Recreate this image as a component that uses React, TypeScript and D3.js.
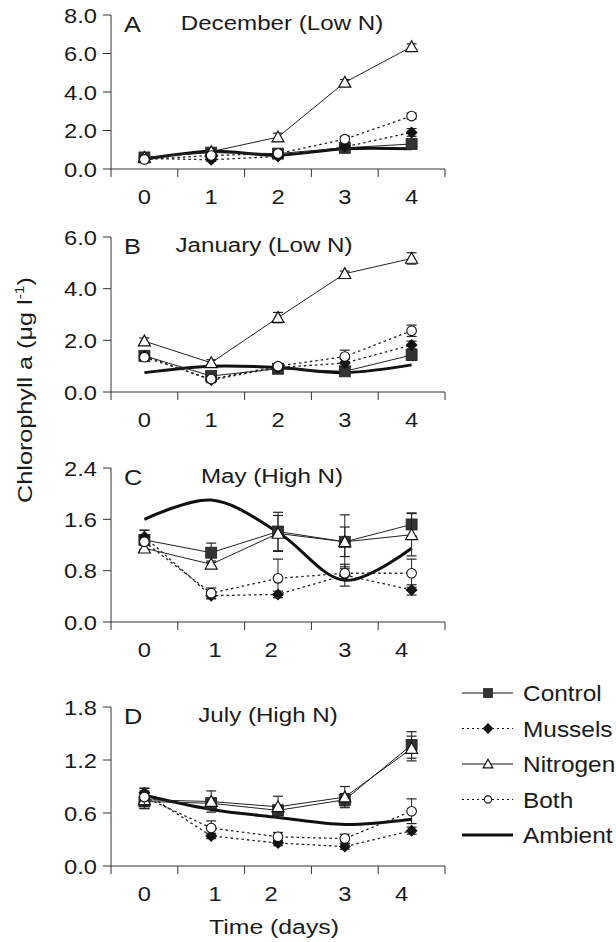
import React from "react";
import * as d3 from "d3";

// days sampled
const days = [0, 1, 2, 3, 4];
const seriesNames = ["Control", "Mussels", "Nitrogen", "Both", "Ambient"];

// A - December (Low N)
const decControl = [0.6, 0.85, 0.8, 1.1, 1.3];
const decControlErr = [0.1, 0.1, 0.1, 0.1, 0.12];
const decMussels = [0.55, 0.48, 0.65, 1.15, 1.9];
const decMusselsErr = [0.1, 0.08, 0.1, 0.12, 0.2];
const decNitrogen = [0.6, 0.9, 1.66, 4.5, 6.35];
const decNitrogenErr = [0.1, 0.1, 0.2, 0.15, 0.15];
const decBoth = [0.5, 0.7, 0.8, 1.55, 2.75];
const decBothErr = [0.1, 0.1, 0.1, 0.15, 0.15];
const decAmbient = [0.5, 0.92, 0.72, 1.05, 1.05];

// B - January (Low N)
const janControl = [1.4, 0.62, 0.9, 0.8, 1.43];
const janControlErr = [0.1, 0.15, 0.1, 0.1, 0.2];
const janMussels = [1.4, 0.46, 0.95, 1.12, 1.82];
const janMusselsErr = [0.1, 0.1, 0.1, 0.15, 0.15];
const janNitrogen = [1.97, 1.13, 2.88, 4.58, 5.17];
const janNitrogenErr = [0.12, 0.12, 0.2, 0.1, 0.22];
const janBoth = [1.35, 0.5, 1.0, 1.37, 2.37];
const janBothErr = [0.1, 0.1, 0.1, 0.25, 0.22];
const janAmbient = [0.75, 1.0, 0.95, 0.75, 1.05];

// C - May (High N)
const mayControl = [1.28, 1.08, 1.41, 1.25, 1.52];
const mayControlErr = [0.15, 0.15, 0.3, 0.42, 0.18];
const mayMussels = [1.33, 0.41, 0.43, 0.73, 0.5];
const mayMusselsErr = [0.1, 0.05, 0.05, 0.17, 0.08];
const mayNitrogen = [1.15, 0.9, 1.38, 1.25, 1.36];
const mayNitrogenErr = [0.05, 0.05, 0.28, 0.23, 0.33];
const mayBoth = [1.25, 0.45, 0.68, 0.76, 0.76];
const mayBothErr = [0.05, 0.08, 0.3, 0.1, 0.22];
const mayAmbient = [1.6, 1.9, 1.4, 0.65, 1.15];

// D - July (High N)
const julControl = [0.73, 0.71, 0.63, 0.75, 1.37];
const julControlErr = [0.08, 0.06, 0.06, 0.07, 0.15];
const julMussels = [0.83, 0.34, 0.26, 0.22, 0.4];
const julMusselsErr = [0.05, 0.03, 0.03, 0.03, 0.04];
const julNitrogen = [0.75, 0.73, 0.67, 0.78, 1.33];
const julNitrogenErr = [0.1, 0.12, 0.12, 0.12, 0.14];
const julBoth = [0.78, 0.43, 0.33, 0.31, 0.62];
const julBothErr = [0.1, 0.08, 0.05, 0.05, 0.14];
const julAmbient = [0.8, 0.64, 0.55, 0.47, 0.53];

const yTicksA = [0, 2, 4, 6, 8];
const yTicksB = [0, 2, 4, 6];
const yTicksC = [0, 0.8, 1.6, 2.4];
const yTicksD = [0, 0.6, 1.2, 1.8];

// label nudges (px) seen in the lower two panels
const shiftNone = [0, 0, 0, 0, 0];
const shiftLower = [0, 4, -7, 0, -10];

const panels = [
  {
    letter: "A", title: "December (Low N)", top: 15, bottom: 169, yTicks: yTicksA, titleX: 282, shift: shiftNone,
    control: [decControl, decControlErr], mussels: [decMussels, decMusselsErr],
    nitrogen: [decNitrogen, decNitrogenErr], both: [decBoth, decBothErr], ambient: decAmbient,
  },
  {
    letter: "B", title: "January (Low N)", top: 237, bottom: 392, yTicks: yTicksB, titleX: 264, shift: shiftNone,
    control: [janControl, janControlErr], mussels: [janMussels, janMusselsErr],
    nitrogen: [janNitrogen, janNitrogenErr], both: [janBoth, janBothErr], ambient: janAmbient,
  },
  {
    letter: "C", title: "May (High N)", top: 468, bottom: 622, yTicks: yTicksC, titleX: 272, shift: shiftLower,
    control: [mayControl, mayControlErr], mussels: [mayMussels, mayMusselsErr],
    nitrogen: [mayNitrogen, mayNitrogenErr], both: [mayBoth, mayBothErr], ambient: mayAmbient,
  },
  {
    letter: "D", title: "July (High N)", top: 707, bottom: 866, yTicks: yTicksD, titleX: 268, shift: shiftLower,
    control: [julControl, julControlErr], mussels: [julMussels, julMusselsErr],
    nitrogen: [julNitrogen, julNitrogenErr], both: [julBoth, julBothErr], ambient: julAmbient,
  },
];

const FONT = "'Liberation Sans', Arial, Helvetica, sans-serif";
const INK = "#1a1a1a";

// text that is a bit wider than the font, like the original figure
function T({ x, y, sx = 1.15, size = 21, anchor = "start", children }: any) {
  return (
    <text transform={`translate(${x},${y}) scale(${sx},1)`} textAnchor={anchor} fontSize={size} fill={INK}>
      {children}
    </text>
  );
}

function Marker({ kind, x, y, s = 1 }: { kind: string; x: number; y: number; s?: number }) {
  if (kind === "Control") {
    const h = 5.5 * s;
    return <rect x={x - h} y={y - h} width={2 * h} height={2 * h} fill="#333" stroke="#222" strokeWidth={0.8} />;
  }
  if (kind === "Mussels") {
    const h = 6 * s;
    return <path d={`M${x},${y - h}L${x + h},${y}L${x},${y + h}L${x - h},${y}Z`} fill="#111" />;
  }
  if (kind === "Nitrogen") {
    const h = 6 * s;
    return (
      <path
        d={`M${x},${y - h}L${x + h},${y + h * 0.8}L${x - h},${y + h * 0.8}Z`}
        fill="#fff"
        stroke="#111"
        strokeWidth={1.2}
      />
    );
  }
  if (kind === "Both") {
    return <circle cx={x} cy={y} r={4.8 * s} fill="#fff" stroke="#111" strokeWidth={1.1} />;
  }
  return null;
}

function Panel({ p }: { p: (typeof panels)[number] }) {
  const x = d3.scaleBand<number>().domain(days).range([111, 445]).paddingInner(0).paddingOuter(0);
  const cx = (d: number) => (x(d) as number) + x.bandwidth() / 2;
  const yMax = p.yTicks[p.yTicks.length - 1];
  const y = d3.scaleLinear().domain([0, yMax]).range([p.bottom, p.top]);
  const edges = [...days.map((d) => x(d) as number), 445];

  const straight = d3
    .line<number>()
    .x((_, i) => cx(days[i]))
    .y((v) => y(v));
  const smooth = d3
    .line<number>()
    .x((_, i) => cx(days[i]))
    .y((v) => y(v))
    .curve(d3.curveCatmullRom.alpha(0.5));

  const series = [
    { name: "Control", vals: p.control[0], err: p.control[1], dash: undefined },
    { name: "Mussels", vals: p.mussels[0], err: p.mussels[1], dash: "2.5,3" },
    { name: "Nitrogen", vals: p.nitrogen[0], err: p.nitrogen[1], dash: undefined },
    { name: "Both", vals: p.both[0], err: p.both[1], dash: "2.5,3" },
  ];

  return (
    <g>
      {/* axes */}
      <line x1={111} x2={111} y1={p.top} y2={p.bottom} stroke="#333" strokeWidth={1} />
      <line x1={111} x2={445} y1={p.bottom} y2={p.bottom} stroke="#333" strokeWidth={1} />
      {p.yTicks.map((t) => (
        <g key={t}>
          <line x1={103} x2={111} y1={y(t)} y2={y(t)} stroke="#333" />
          <T x={97} y={y(t) + 7.5} anchor="end" sx={1.13}>
            {d3.format(".1f")(t)}
          </T>
        </g>
      ))}
      {edges.map((e, i) => (
        <line key={i} x1={e} x2={e} y1={p.bottom} y2={p.bottom + 8} stroke="#333" />
      ))}
      {days.map((d, i) => (
        <T key={d} x={cx(d) + p.shift[i]} y={p.bottom + 35} anchor="middle" sx={1.13}>
          {d}
        </T>
      ))}
      <T x={124} y={p.top + 17} size={22}>
        {p.letter}
      </T>
      <T x={p.titleX} y={p.top + 15} anchor="middle">
        {p.title}
      </T>

      {/* ambient */}
      <path d={smooth(p.ambient) as string} fill="none" stroke="#111" strokeWidth={3} />

      {series.map((s) => (
        <g key={s.name}>
          <path
            d={straight(s.vals) as string}
            fill="none"
            stroke="#222"
            strokeWidth={s.dash ? 1.3 : 1}
            strokeDasharray={s.dash}
          />
          {s.vals.map((v, i) => {
            const px = cx(days[i]);
            const hi = y(v + s.err[i]);
            const lo = y(Math.max(0, v - s.err[i]));
            return (
              <g key={i}>
                <line x1={px} x2={px} y1={hi} y2={lo} stroke="#222" strokeWidth={1} />
                <line x1={px - 5} x2={px + 5} y1={hi} y2={hi} stroke="#222" strokeWidth={1.2} />
                <line x1={px - 5} x2={px + 5} y1={lo} y2={lo} stroke="#222" strokeWidth={1.2} />
              </g>
            );
          })}
          {s.vals.map((v, i) => (
            <Marker key={i} kind={s.name} x={cx(days[i])} y={y(v)} />
          ))}
        </g>
      ))}
    </g>
  );
}

function Legend() {
  const rows = d3.scalePoint<string>().domain(seriesNames).range([693, 835]);
  return (
    <g>
      {seriesNames.map((n) => {
        const ry = rows(n) as number;
        const dotted = n === "Mussels" || n === "Both";
        return (
          <g key={n}>
            <line
              x1={462}
              x2={513}
              y1={ry}
              y2={ry}
              stroke="#111"
              strokeWidth={n === "Ambient" ? 3 : 1.2}
              strokeDasharray={dotted ? "2,3" : undefined}
            />
            <Marker kind={n} x={488} y={ry} s={n === "Control" ? 0.8 : n === "Nitrogen" ? 0.8 : n === "Both" ? 0.75 : 0.9} />
            <T x={523} y={ry + 8} size={22} sx={1.11}>
              {n}
            </T>
          </g>
        );
      })}
    </g>
  );
}

export default function App() {
  return (
    <svg
      width={616}
      height={942}
      style={{ position: "absolute", left: 0, top: 0, background: "#fff" }}
      fontFamily={FONT}
    >
      <rect width={616} height={942} fill="#fff" />
      {panels.map((p) => (
        <Panel key={p.letter} p={p} />
      ))}
      <Legend />
      <T x={274} y={934} anchor="middle" sx={1.18}>
        Time (days)
      </T>
      <text transform="translate(32,390) rotate(-90) scale(1.2,1)" textAnchor="middle" fontSize={21} fill={INK}>
        Chlorophyll a (μg l<tspan dy={-8} fontSize={13}>-1</tspan>
        <tspan dy={8}>)</tspan>
      </text>
    </svg>
  );
}
